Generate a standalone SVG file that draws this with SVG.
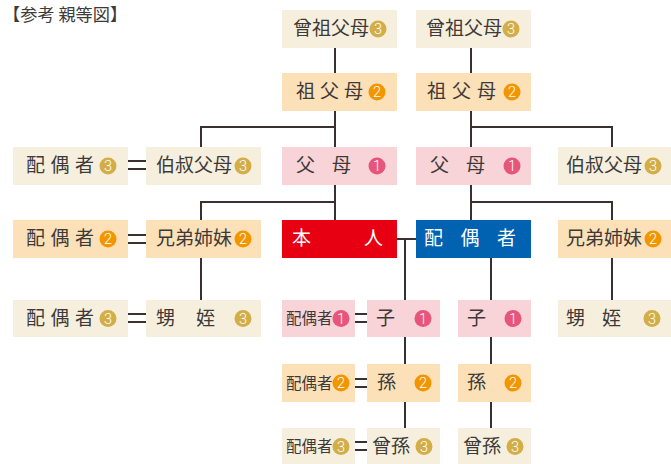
<svg xmlns="http://www.w3.org/2000/svg" width="671" height="464" viewBox="0 0 671 464">
<style>
text{font-family:"Noto Sans CJK JP","Noto Sans CJK SC",sans-serif;fill:#3d3a39}
.t{font-size:19px}
.s{font-size:15.5px}
.w{fill:#fff}
.n{font-size:14.5px;fill:#fff;text-anchor:middle;font-family:"Roboto","Noto Sans",sans-serif;font-weight:300}
.l3{fill:#f7efdd}
.l2{fill:#fce0b8}
.l1{fill:#f8d3d7}
.c3{fill:#d3ae48}
.c2{fill:#f29600}
.c1{fill:#e8557b}
#connectors path{fill:none;stroke:#3a302f;stroke-width:2}
</style>
<rect width="671" height="464" fill="#fff"/>
<text x="3" y="20.5" style="font-size:17.2px">【参考 親等図】</text>
<g id="connectors">
<path d="M335 48V73M471 48V73"/>
<path d="M335 111V147M335 127H201V147M471 111V147M471 127H612V147"/>
<path d="M335 185V220M335 202H201V220M471 185V220M471 202H612V220"/>
<path d="M201 258V300M612 258V300"/>
<path d="M397 239H416M405 239V428M491 258V428"/>
<path d="M128 161H146M128 169H146M128 235H146M128 243H146M128 314H146M128 322H146"/>
<path d="M355 314H367M355 322H367M355 379H367M355 387H367M355 442H367M355 450H367"/>
</g>
<g id="n-sosofubo-l"><rect class="l3" x="282" y="10" width="115" height="38"/><text class="t" x="293" y="35">曾祖父母</text><circle class="c3" cx="378" cy="29" r="8.5"/><text class="n" x="378" y="34.2">3</text></g>
<g id="n-sosofubo-r"><rect class="l3" x="416" y="10" width="115" height="38"/><text class="t" x="426" y="35">曾祖父母</text><circle class="c3" cx="511" cy="29" r="8.5"/><text class="n" x="511" y="34.2">3</text></g>
<g id="n-sofubo-l"><rect class="l2" x="282" y="73" width="115" height="38"/><text class="t" x="296 320 344" y="98">祖父母</text><circle class="c2" cx="377" cy="92" r="8.5"/><text class="n" x="377" y="97.2">2</text></g>
<g id="n-sofubo-r"><rect class="l2" x="416" y="73" width="115" height="38"/><text class="t" x="427 452 477" y="98">祖父母</text><circle class="c2" cx="512" cy="92" r="8.5"/><text class="n" x="512" y="97.2">2</text></g>
<g id="n-haigusha3-a"><rect class="l3" x="13" y="147" width="115" height="38"/><text class="t" x="26 50.5 75" y="172">配偶者</text><circle class="c3" cx="108" cy="166" r="8.5"/><text class="n" x="108" y="171.2">3</text></g>
<g id="n-ojioba-l"><rect class="l3" x="146" y="147" width="115" height="38"/><text class="t" x="156 175 194 213" y="172">伯叔父母</text><circle class="c3" cx="243" cy="166" r="8.5"/><text class="n" x="243" y="171.2">3</text></g>
<g id="n-fubo-l"><rect class="l1" x="282" y="147" width="115" height="38"/><text class="t" x="296 332" y="172">父母</text><circle class="c1" cx="377" cy="166" r="8.5"/><text class="n" x="377" y="171.2">1</text></g>
<g id="n-fubo-r"><rect class="l1" x="416" y="147" width="115" height="38"/><text class="t" x="430 466" y="172">父母</text><circle class="c1" cx="512" cy="166" r="8.5"/><text class="n" x="512" y="171.2">1</text></g>
<g id="n-ojioba-r"><rect class="l3" x="558" y="147" width="113" height="38"/><text class="t" x="566 585 604 623" y="172">伯叔父母</text><circle class="c3" cx="653" cy="166" r="8.5"/><text class="n" x="653" y="171.2">3</text></g>
<g id="n-haigusha2-a"><rect class="l2" x="13" y="220" width="115" height="38"/><text class="t" x="26 50.5 75" y="245">配偶者</text><circle class="c2" cx="108" cy="239" r="8.5"/><text class="n" x="108" y="244.2">2</text></g>
<g id="n-kyodai-l"><rect class="l2" x="146" y="220" width="115" height="38"/><text class="t" x="156 175 194 213" y="245">兄弟姉妹</text><circle class="c2" cx="243" cy="239" r="8.5"/><text class="n" x="243" y="244.2">2</text></g>
<g id="n-honnin"><rect fill="#e60012" x="282" y="220" width="115" height="38"/><text class="t w" x="292 364" y="245">本人</text></g>
<g id="n-haigusha"><rect fill="#0062b1" x="416" y="220" width="115" height="38"/><text class="t w" x="424 460.5 497" y="245">配偶者</text></g>
<g id="n-kyodai-r"><rect class="l2" x="558" y="220" width="113" height="38"/><text class="t" x="566 585 604 623" y="245">兄弟姉妹</text><circle class="c2" cx="653" cy="239" r="8.5"/><text class="n" x="653" y="244.2">2</text></g>
<g id="n-haigusha3-b"><rect class="l3" x="13" y="300" width="115" height="37"/><text class="t" x="26 50.5 75" y="324.5">配偶者</text><circle class="c3" cx="108" cy="318.5" r="8.5"/><text class="n" x="108" y="323.7">3</text></g>
<g id="n-oimei-l"><rect class="l3" x="146" y="300" width="115" height="37"/><text class="t" x="156 196" y="324.5">甥姪</text><circle class="c3" cx="243" cy="318.5" r="8.5"/><text class="n" x="243" y="323.7">3</text></g>
<g id="n-haigusha1-c"><rect class="l1" x="282" y="300" width="73" height="37"/><text class="s" x="286" y="324">配偶者</text><circle class="c1" cx="341" cy="318.5" r="8.5"/><text class="n" x="341" y="323.7">1</text></g>
<g id="n-ko-l"><rect class="l1" x="367" y="300" width="73" height="37"/><text class="t" x="376" y="324.5">子</text><circle class="c1" cx="423" cy="318.5" r="8.5"/><text class="n" x="423" y="323.7">1</text></g>
<g id="n-ko-r"><rect class="l1" x="458" y="300" width="73" height="37"/><text class="t" x="467" y="324.5">子</text><circle class="c1" cx="513" cy="318.5" r="8.5"/><text class="n" x="513" y="323.7">1</text></g>
<g id="n-oimei-r"><rect class="l3" x="558" y="300" width="113" height="37"/><text class="t" x="566 602" y="324.5">甥姪</text><circle class="c3" cx="652" cy="318.5" r="8.5"/><text class="n" x="652" y="323.7">3</text></g>
<g id="n-haigusha2-c"><rect class="l2" x="282" y="364" width="73" height="38"/><text class="s" x="286" y="388.5">配偶者</text><circle class="c2" cx="341" cy="383" r="8.5"/><text class="n" x="341" y="388.2">2</text></g>
<g id="n-mago-l"><rect class="l2" x="367" y="364" width="73" height="38"/><text class="t" x="377" y="389">孫</text><circle class="c2" cx="423" cy="383" r="8.5"/><text class="n" x="423" y="388.2">2</text></g>
<g id="n-mago-r"><rect class="l2" x="458" y="364" width="73" height="38"/><text class="t" x="467" y="389">孫</text><circle class="c2" cx="513" cy="383" r="8.5"/><text class="n" x="513" y="388.2">2</text></g>
<g id="n-haigusha3-c"><rect class="l3" x="282" y="428" width="73" height="36"/><text class="s" x="286" y="452">配偶者</text><circle class="c3" cx="341" cy="446.5" r="8.5"/><text class="n" x="341" y="451.7">3</text></g>
<g id="n-himago-l"><rect class="l3" x="367" y="428" width="73" height="36"/><text class="t" x="372" y="452.5">曾孫</text><circle class="c3" cx="424" cy="446.5" r="8.5"/><text class="n" x="424" y="451.7">3</text></g>
<g id="n-himago-r"><rect class="l3" x="458" y="428" width="73" height="36"/><text class="t" x="463" y="452.5">曾孫</text><circle class="c3" cx="515" cy="446.5" r="8.5"/><text class="n" x="515" y="451.7">3</text></g>
</svg>
